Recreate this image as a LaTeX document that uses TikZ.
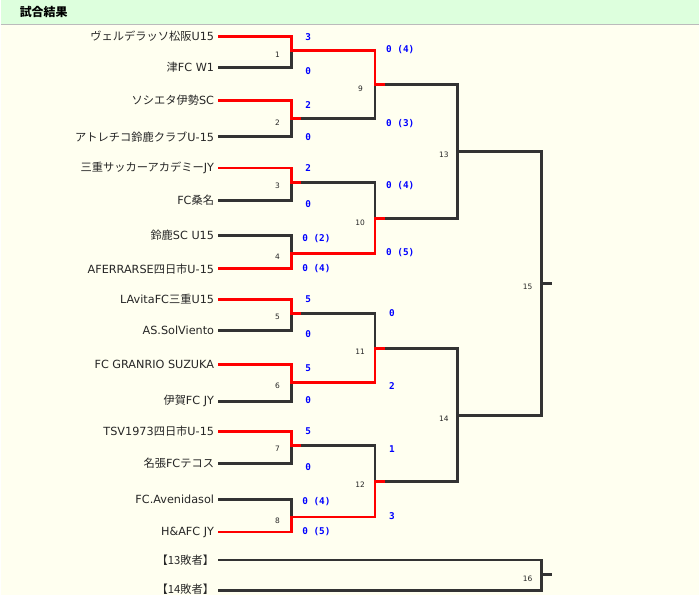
\documentclass[tikz,border=0pt]{standalone}
\usepackage{fontspec}
\setmainfont{DejaVu Sans}
\newfontfamily\jp{Noto Sans CJK JP}
\newfontfamily\mono{DejaVu Sans Mono}
\definecolor{hdr}{HTML}{DDFFDD}
\definecolor{bg}{HTML}{FFFFF0}
\definecolor{hdrline}{HTML}{BBBBBB}
\definecolor{win}{HTML}{FF0000}
\definecolor{lose}{HTML}{333333}
\definecolor{score}{HTML}{0000FF}
\begin{document}
\begin{tikzpicture}[x=1bp,y=-1bp,
  team/.style={anchor=east,inner sep=0pt,font=\fontsize{11.3}{13}\selectfont,text=black!85},
  sc/.style={inner sep=0pt,font=\mono\bfseries\fontsize{9.4}{10}\selectfont,text=score},
  scw/.style={sc,anchor=west},
  mno/.style={inner sep=0pt,anchor=east,font=\fontsize{7.5}{8}\selectfont,text=black!85},
  wl/.style={draw=win,line width=2.9bp},
  ll/.style={draw=lose,line width=2.9bp}]
\fill[bg] (0,0) rectangle (700,596);
\fill[hdr] (0,0) rectangle (700,24);
\draw[hdrline,line width=1.3bp] (0,24.6) -- (700,24.6);
\useasboundingbox (0,0) rectangle (700,596);
\node[anchor=west,inner sep=0pt,font=\jp\bfseries\fontsize{12}{14}\selectfont] (title) at (19,12) {試合結果};
% teams
\foreach \i/\y/\nm in {
  1/36.7/{{\jp ヴェルデラッソ松阪}U15},
  2/67.7/{{\jp 津}FC W1},
  3/100.7/{{\jp ソシエタ伊勢}SC},
  4/137/{{\jp アトレチコ鈴鹿クラブ}U-15},
  5/168.3/{{\jp 三重サッカーアカデミー}JY},
  6/201/{FC{\jp 桑名}},
  7/235.7/{{\jp 鈴鹿}SC U15},
  8/269.3/{AFERRARSE{\jp 四日市}U-15},
  9/300/{LAvitaFC{\jp 三重}U15},
  10/331/{AS.SolViento},
  11/365/{FC GRANRIO SUZUKA},
  12/402/{{\jp 伊賀}FC JY},
  13/432.5/{TSV1973{\jp 四日市}U-15},
  14/464/{{\jp 名張}FC{\jp テコス}},
  15/500/{FC.Avenidasol},
  16/533/{H\&AFC JY}}{
  \node[team] (t\i) at (214,\y) {\nm};
  \coordinate (L\i) at (218,\y);
  \coordinate (R\i) at (291,\y);
}
\node[team] (t17) at (214,561) {{\jp 【13敗者】}};
\node[team] (t18) at (214,590.5) {{\jp 【14敗者】}};
\coordinate (L17) at (218,561); \coordinate (R17) at (542,561);
\coordinate (L18) at (218,592); \coordinate (R18) at (542,592);
% match points round 1
\coordinate (M1) at (291,51);  \coordinate (S1) at (301,51);  \coordinate (E1) at (375,51);
\coordinate (M2) at (291,119); \coordinate (S2) at (301,119); \coordinate (E2) at (375,119);
\coordinate (M3) at (291,183); \coordinate (S3) at (301,183); \coordinate (E3) at (375,183);
\coordinate (M4) at (291,254); \coordinate (S4) at (301,254); \coordinate (E4) at (375,254);
\coordinate (M5) at (291,314); \coordinate (S5) at (301,314); \coordinate (E5) at (375,314);
\coordinate (M6) at (291,383); \coordinate (S6) at (301,383); \coordinate (E6) at (375,383);
\coordinate (M7) at (291,446); \coordinate (S7) at (301,446); \coordinate (E7) at (375,446);
\coordinate (M8) at (291,518); \coordinate (S8) at (301,518); \coordinate (E8) at (375,518);
% round 2
\coordinate (M9) at (375,85);   \coordinate (S9) at (385,85);   \coordinate (E9) at (458,85);
\coordinate (M10) at (375,219); \coordinate (S10) at (385,219); \coordinate (E10) at (458,219);
\coordinate (M11) at (375,349); \coordinate (S11) at (385,349); \coordinate (E11) at (458,349);
\coordinate (M12) at (375,482); \coordinate (S12) at (385,482); \coordinate (E12) at (458,482);
% round 3
\coordinate (M13) at (458,152); \coordinate (E13) at (542,152);
\coordinate (M14) at (458,416); \coordinate (E14) at (542,416);
\coordinate (M15) at (542,284); \coordinate (E15) at (552,284);
\coordinate (M16) at (542,576); \coordinate (E16) at (552,576);
% ---- black lines first
\draw[ll] (L2) -- (R2) -- (M1);
\draw[ll] (L4) -- (R4) -- (M2);
\draw[ll] (L6) -- (R6) -- (M3);
\draw[ll] (L7) -- (R7) -- (M4);
\draw[ll] (L10) -- (R10) -- (M5);
\draw[ll] (L12) -- (R12) -- (M6);
\draw[ll] (L14) -- (R14) -- (M7);
\draw[ll] (L15) -- (R15) -- (M8);
\draw[ll] (S2) -- (E2) -- (M9);
\draw[ll] (S3) -- (E3) -- (M10);
\draw[ll] (S5) -- (E5) -- (M11);
\draw[ll] (S7) -- (E7) -- (M12);
\draw[ll] (S9) -- (E9) -- (M13);
\draw[ll] (S10) -- (E10) -- (M13);
\draw[ll] (S11) -- (E11) -- (M14);
\draw[ll] (S12) -- (E12) -- (M14);
\draw[ll] (M13) -- (E13) -- (M15);
\draw[ll] (M14) -- (E14) -- (M15);
\draw[ll] (M15) -- (E15);
\draw[ll] (L17) -- (R17) -- (M16);
\draw[ll] (L18) -- (R18) -- (M16);
\draw[ll] (M16) -- (E16);
% ---- red (winner) lines
\draw[wl] (L1) -- (R1) -- (M1) -- (E1) -- (M9) -- (S9);
\draw[wl] (L3) -- (R3) -- (M2) -- (S2);
\draw[wl] (L5) -- (R5) -- (M3) -- (S3);
\draw[wl] (L8) -- (R8) -- (M4) -- (E4) -- (M10) -- (S10);
\draw[wl] (L9) -- (R9) -- (M5) -- (S5);
\draw[wl] (L11) -- (R11) -- (M6) -- (E6) -- (M11) -- (S11);
\draw[wl] (L13) -- (R13) -- (M7) -- (S7);
\draw[wl] (L16) -- (R16) -- (M8) -- (E8) -- (M12) -- (S12);
% ---- match numbers
\node[mno] (n1) at (280,54.5) {1};
\node[mno] (n2) at (280,122.5) {2};
\node[mno] (n3) at (280,186.5) {3};
\node[mno] (n4) at (280,257.5) {4};
\node[mno] (n5) at (280,317.5) {5};
\node[mno] (n6) at (280,386.5) {6};
\node[mno] (n7) at (280,449.5) {7};
\node[mno] (n8) at (280,521.5) {8};
\node[mno] (n9) at (363,88.5) {9};
\node[mno] (n10) at (365,223) {10};
\node[mno] (n11) at (365,352.5) {11};
\node[mno] (n12) at (365,486) {12};
\node[mno] (n13) at (449,155.5) {13};
\node[mno] (n14) at (449,419.5) {14};
\node[mno] (n15) at (533,287.5) {15};
\node[mno] (n16) at (533,579.5) {16};
% ---- scores
\node[sc] (s1a) at (308,37) {3};
\node[sc] (s1b) at (308,71) {0};
\node[sc] (s2a) at (308,105) {2};
\node[sc] (s2b) at (308,137.5) {0};
\node[sc] (s3a) at (308,168.5) {2};
\node[sc] (s3b) at (308,204) {0};
\node[scw] (s4a) at (302,239.5) {0 (2)};
\node[scw] (s4b) at (302,269) {0 (4)};
\node[sc] (s5a) at (308,299.5) {5};
\node[sc] (s5b) at (308,334.5) {0};
\node[sc] (s6a) at (308,368.5) {5};
\node[sc] (s6b) at (308,400.5) {0};
\node[sc] (s7a) at (308,432) {5};
\node[sc] (s7b) at (308,467.5) {0};
\node[scw] (s8a) at (302,502.5) {0 (4)};
\node[scw] (s8b) at (302,532.5) {0 (5)};
\node[scw] (s9a) at (386,50) {0 (4)};
\node[scw] (s9b) at (386,124) {0 (3)};
\node[scw] (s10a) at (386,186) {0 (4)};
\node[scw] (s10b) at (386,253) {0 (5)};
\node[sc] (s11a) at (392,314) {0};
\node[sc] (s11b) at (392,387) {2};
\node[sc] (s12a) at (392,450) {1};
\node[sc] (s12b) at (392,517) {3};
\end{tikzpicture}
\end{document}
